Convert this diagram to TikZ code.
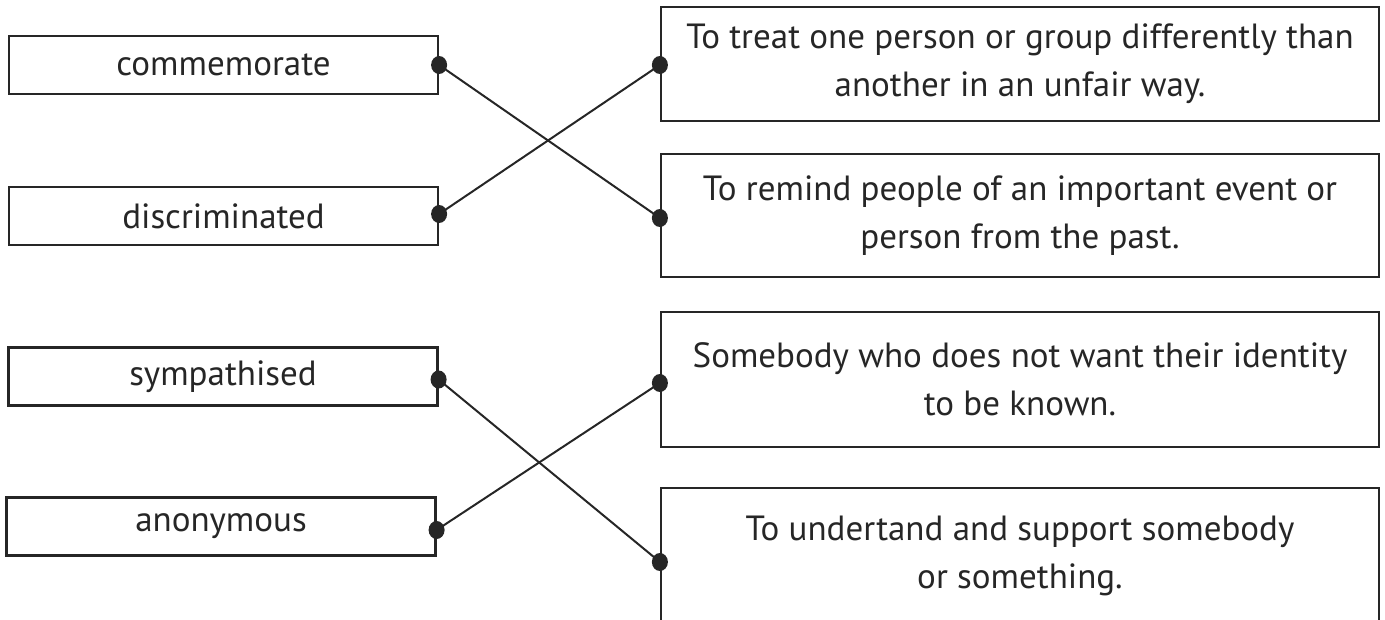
\documentclass[tikz,border=0pt]{standalone}
\usepackage{fontspec}
\setmainfont{PT Sans}
\definecolor{ink}{HTML}{262626}
\begin{document}
\begin{tikzpicture}[x=1pt,y=-1pt,
  wordbox/.style={draw=ink,line width=2.2pt,rectangle,minimum width=429pt,minimum height=58pt,inner sep=0pt,text=ink,font=\fontsize{35}{48}\selectfont},
  defbox/.style={draw=ink,line width=2.2pt,rectangle,minimum width=718pt,inner sep=0pt,align=center,text=ink,font=\fontsize{35}{48}\selectfont},
  link/.style={draw=ink,line width=2pt},
  dot/.style={fill=ink}]
\useasboundingbox (0,0) rectangle (1385,619);
% left word boxes
\node[wordbox] (w1) at (223.5,65) {commemorate};
\node[wordbox] (w2) at (223.5,216) {discriminated};
\node[wordbox] (w3) at (223,376.5) {sympathised};
\node[wordbox] (w4) at (221,526.5) {anonymous};
% right definition boxes
\node[defbox,minimum height=114pt] (r1) at (1020,64) {To treat one person or group differently than\\another in an unfair way.};
\node[defbox,minimum height=123pt] (r2) at (1020,215.5) {To remind people of an important event or\\person from the past.};
\node[defbox,minimum height=135pt] (r3) at (1020,379.5) {Somebody who does not want their identity\\to be known.};
\node[defbox,minimum height=136pt] (r4) at (1020,556) {To undertand and support somebody\\or something.};
% connection points
\coordinate (a1) at (w1.east);
\coordinate (a2) at ([yshift=2pt]w2.east);
\coordinate (a3) at ([yshift=-3pt]w3.east);
\coordinate (a4) at ([yshift=-3.5pt]w4.east);
\coordinate (b1) at ([yshift=-1pt]r1.west);
\coordinate (b2) at ([yshift=-2.5pt]r2.west);
\coordinate (b3) at ([yshift=-3.5pt]r3.west);
\coordinate (b4) at ([yshift=-6pt]r4.west);
% connectors
\draw[link] (a1) -- (b2);
\draw[link] (a2) -- (b1);
\draw[link] (a3) -- (b4);
\draw[link] (a4) -- (b3);
% dots
\foreach \p in {a1,a2,a3,a4,b1,b2,b3,b4}
  \fill[dot] (\p) ellipse [x radius=8pt, y radius=9pt];
\end{tikzpicture}
\end{document}
